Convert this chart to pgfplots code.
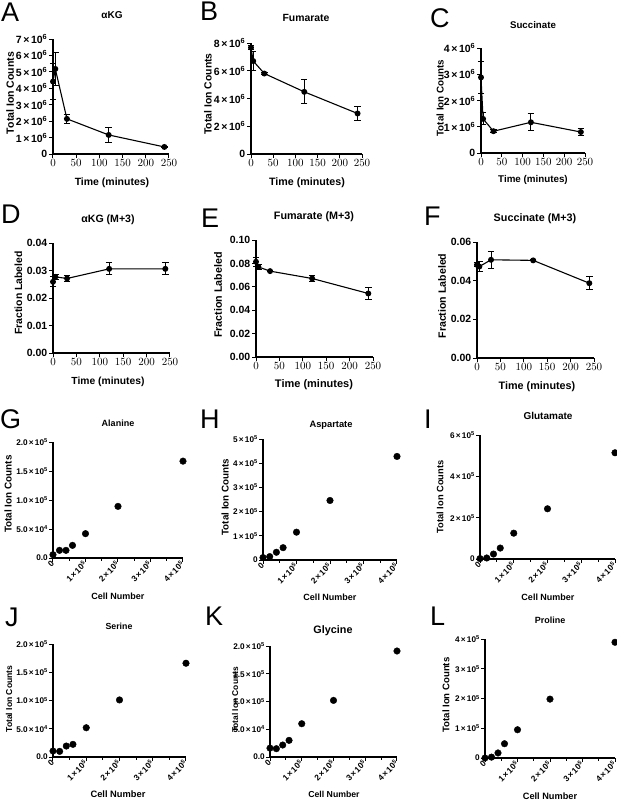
\documentclass[border=0pt]{standalone}
\usepackage{fontspec}
\setmainfont{Liberation Sans}
\usepackage{pgfplots}
\pgfplotsset{compat=1.18}
\newcommand{\tx}[2]{#1\kern0.15em×\kern0.15em10\textsuperscript{#2}}
\newcommand{\fs}[1]{\fontsize{#1}{#1}\selectfont\bfseries}
\newcommand{\lf}{\fontsize{27}{27}\selectfont}
\pgfplotsset{
  prism/.style={
    scale only axis, anchor=south west, clip=false,
    axis lines*=left, tick align=outside,
    axis line style={line width=1.1pt, black},
    tick style={line width=1pt, black},
    major tick length=4pt, minor tick length=2.5pt,
    xmin=0, ymin=0, scaled ticks=false,
    tick label style={font=\fs{10.5}},
    xticklabel style={inner sep=1pt}, yticklabel style={inner sep=1.5pt},
  },
  timeax/.style={prism, xmax=250, xtick={0,50,100,150,200,250}},
  cellax/.style={prism, xmax=400000, xtick={0,100000,200000,300000,400000},
    xticklabels={0,\tx{1}{5},\tx{2}{5},\tx{3}{5},\tx{4}{5}},
    minor xtick={50000,150000,250000,350000},
    xticklabel style={rotate=45, anchor=east, inner sep=0.5pt, font=\fs{8.3}},
    yticklabel style={font=\fs{8.2}, inner sep=1pt}},
  tline/.style={black, line width=1.1pt, mark=*, mark size=2.4pt, mark options={solid},
    error bars/y dir=both, error bars/y explicit,
    error bars/error bar style={line width=1pt, black},
    error bars/error mark options={rotate=90, mark size=3.2pt, line width=1pt, black}},
  dots/.style={black, only marks, mark=*, mark size=3.3pt},
}
\begin{document}
\begin{tikzpicture}
\path[use as bounding box] (0pt,0pt) rectangle (617pt,-801pt);

% ---------- A ----------
\begin{axis}[timeax, at={(53pt,-154pt)}, width=116pt, height=115pt, ymax=7000000,
  ytick={0,1000000,2000000,3000000,4000000,5000000,6000000,7000000},
  yticklabels={0,\tx{1}{6},\tx{2}{6},\tx{3}{6},\tx{4}{6},\tx{5}{6},\tx{6}{6},\tx{7}{6}}]
\addplot[tline] table[x=t,y=y,y error=e] {
t y e
0 4410000 1100000
5 5180000 990000
30 2140000 270000
120 1160000 450000
240 430000 40000
};
\end{axis}
% ---------- B ----------
\begin{axis}[timeax, at={(251pt,-154pt)}, width=111pt, height=111pt, ymax=8000000,
  ytick={0,2000000,4000000,6000000,8000000},
  yticklabels={0,\tx{2}{6},\tx{4}{6},\tx{6}{6},\tx{8}{6}}]
\addplot[tline] table[x=t,y=y,y error=e] {
t y e
0 7670000 150000
5 6700000 700000
30 5800000 60000
120 4480000 860000
240 2920000 500000
};
\end{axis}
% ---------- C ----------
\begin{axis}[timeax, at={(481pt,-153pt)}, width=104pt, height=105pt, ymax=4000000,
  ytick={0,1000000,2000000,3000000,4000000},
  yticklabels={0,\tx{1}{6},\tx{2}{6},\tx{3}{6},\tx{4}{6}}]
\addplot[tline] table[x=t,y=y,y error=e] {
t y e
0 2880000 600000
5 1300000 230000
30 830000 50000
120 1170000 320000
240 800000 140000
};
\end{axis}
% ---------- D ----------
\begin{axis}[timeax, at={(53pt,-353pt)}, width=117pt, height=110pt, ymax=0.04,
  ytick={0,0.01,0.02,0.03,0.04},
  yticklabels={0.00,0.01,0.02,0.03,0.04}]
\addplot[tline] table[x=t,y=y,y error=e] {
t y e
0 0.0259 0.0018
5 0.0277 0.0010
30 0.0271 0.0010
120 0.0306 0.0022
240 0.0306 0.0022
};
\end{axis}
% ---------- E ----------
\begin{axis}[timeax, at={(256pt,-357pt)}, width=117pt, height=117pt, ymax=0.10,
  ytick={0,0.02,0.04,0.06,0.08,0.10},
  yticklabels={0.00,0.02,0.04,0.06,0.08,0.10}]
\addplot[tline] table[x=t,y=y,y error=e] {
t y e
0 0.0814 0.0040
5 0.0770 0.0020
30 0.0734 0.0005
120 0.0671 0.0025
240 0.0543 0.0055
};
\end{axis}
% ---------- F ----------
\begin{axis}[timeax, at={(477pt,-358pt)}, width=117pt, height=116pt, ymax=0.06,
  ytick={0,0.02,0.04,0.06},
  yticklabels={0.00,0.02,0.04,0.06}]
\addplot[tline] table[x=t,y=y,y error=e] {
t y e
0 0.0482 0.0010
5 0.0473 0.0024
30 0.0508 0.0045
120 0.0505 0.0003
240 0.0387 0.0035
};
\end{axis}
% ---------- G ----------
\begin{axis}[cellax, at={(53pt,-558pt)}, width=130pt, height=116pt, ymax=200000,
  ytick={0,50000,100000,150000,200000},
  yticklabels={0.0,\tx{5.0}{4},\tx{1.0}{5},\tx{1.5}{5},\tx{2.0}{5}}]
\addplot[dots] coordinates {(0,5700) (20000,13200) (40000,13200) (60000,21800) (100000,42000) (200000,89000) (400000,167000)};
\end{axis}
% ---------- H ----------
\begin{axis}[cellax, at={(263pt,-560pt)}, width=134pt, height=121pt, ymax=500000,
  ytick={0,100000,200000,300000,400000,500000},
  yticklabels={0,\tx{1}{5},\tx{2}{5},\tx{3}{5},\tx{4}{5},\tx{5}{5}}]
\addplot[dots] coordinates {(0,10000) (20000,14000) (40000,32000) (60000,51000) (100000,115000) (200000,246000) (400000,428000)};
\end{axis}
% ---------- I ----------
\begin{axis}[cellax, at={(480pt,-559pt)}, width=135pt, height=124pt, ymax=600000,
  ytick={0,200000,400000,600000},
  yticklabels={0,\tx{2}{5},\tx{4}{5},\tx{6}{5}}]
\addplot[dots] coordinates {(0,2000) (20000,5000) (40000,24000) (60000,53000) (100000,125000) (200000,243000) (400000,514000)};
\end{axis}
% ---------- J ----------
\begin{axis}[cellax, at={(53pt,-757pt)}, width=133pt, height=113pt, ymax=200000,
  ytick={0,50000,100000,150000,200000},
  yticklabels={0.0,\tx{5.0}{4},\tx{1.0}{5},\tx{1.5}{5},\tx{2.0}{5}}]
\addplot[dots] coordinates {(0,10600) (20000,10000) (40000,19400) (60000,22400) (100000,51800) (200000,101000) (400000,166000)};
\end{axis}
% ---------- K ----------
\begin{axis}[cellax, at={(270pt,-757pt)}, width=127pt, height=111pt, ymax=200000,
  ytick={0,50000,100000,150000,200000},
  yticklabels={0.0,\tx{5.0}{4},\tx{1.0}{5},\tx{1.5}{5},\tx{2.0}{5}}]
\addplot[dots] coordinates {(0,16000) (20000,15000) (40000,21600) (60000,30000) (100000,60000) (200000,102000) (400000,191000)};
\end{axis}
% ---------- L ----------
\begin{axis}[cellax, at={(485pt,-758pt)}, width=130pt, height=119pt, ymax=400000,
  ytick={0,100000,200000,300000,400000},
  yticklabels={0,\tx{1}{5},\tx{2}{5},\tx{3}{5},\tx{4}{5}}]
\addplot[dots] coordinates {(0,0) (20000,3000) (40000,17000) (60000,48000) (100000,95000) (200000,198000) (400000,389000)};
\end{axis}

% ---------- panel letters ----------
\begin{scope}[every node/.style={anchor=base west, inner sep=0pt, font=\lf}]
\node at (1pt,-21pt) {A};
\node at (200pt,-20pt) {B};
\node at (430pt,-27pt) {C};
\node at (1pt,-223pt) {D};
\node at (201pt,-227pt) {E};
\node at (424pt,-225pt) {F};
\node at (0pt,-428pt) {G};
\node at (200pt,-428pt) {H};
\node at (424pt,-428pt) {I};
\node at (5pt,-626pt) {J};
\node at (205pt,-625pt) {K};
\node at (430pt,-625pt) {L};
\end{scope}

% ---------- titles ----------
\begin{scope}[every node/.style={anchor=base, inner sep=0pt}]
\node[font=\fs{10}] at (112pt,-18.5pt) {αKG};
\node[font=\fs{10.4}] at (306pt,-21pt) {Fumarate};
\node[font=\fs{9.7}] at (533pt,-28.5pt) {Succinate};
\node[font=\fs{10.6}] at (108pt,-222pt) {αKG (M+3)};
\node[font=\fs{10.8}] at (314pt,-219pt) {Fumarate (M+3)};
\node[font=\fs{10.8}] at (535pt,-221pt) {Succinate (M+3)};
\node[font=\fs{9}] at (118pt,-426pt) {Alanine};
\node[font=\fs{9.3}] at (331pt,-427pt) {Aspartate};
\node[font=\fs{10}] at (548pt,-419pt) {Glutamate};
\node[font=\fs{8.8}] at (119pt,-629pt) {Serine};
\node[font=\fs{10.8}] at (333pt,-633pt) {Glycine};
\node[font=\fs{9}] at (550pt,-623pt) {Proline};
\end{scope}

% ---------- y labels ----------
\begin{scope}[every node/.style={rotate=90, anchor=center, inner sep=0pt}]
\node[font=\fs{10.5}] at (10pt,-93pt) {Total Ion Counts};
\node[font=\fs{10.4}] at (208pt,-94pt) {Total Ion Counts};
\node[font=\fs{9.8}] at (440pt,-98pt) {Total Ion Counts};
\node[font=\fs{10.4}] at (18.5pt,-293pt) {Fraction Labeled};
\node[font=\fs{10.7}] at (218pt,-295pt) {Fraction Labeled};
\node[font=\fs{10.6}] at (442pt,-296pt) {Fraction Labeled};
\node[font=\fs{9.9}] at (8pt,-494pt) {Total Ion Counts};
\node[font=\fs{9.8}] at (225pt,-497pt) {Total Ion Counts};
\node[font=\fs{9.3}] at (440pt,-497pt) {Total Ion Counts};
\node[font=\fs{8.6}] at (9pt,-699pt) {Total Ion Counts};
\node[font=\fs{8.4}] at (235pt,-700pt) {Total Ion Counts};
\node[font=\fs{9.6}] at (446pt,-695pt) {Total Ion Counts};
\end{scope}

% ---------- x labels ----------
\begin{scope}[every node/.style={anchor=center, inner sep=0pt}]
\node[font=\fs{10.5}] at (112pt,-183pt) {Time (minutes)};
\node[font=\fs{10.7}] at (307pt,-183pt) {Time (minutes)};
\node[font=\fs{9.8}] at (533pt,-180pt) {Time (minutes)};
\node[font=\fs{10.3}] at (108pt,-382pt) {Time (minutes)};
\node[font=\fs{11}] at (314pt,-385pt) {Time (minutes)};
\node[font=\fs{10.8}] at (537pt,-387pt) {Time (minutes)};
\node[font=\fs{9}] at (118pt,-596pt) {Cell Number};
\node[font=\fs{9}] at (330pt,-597pt) {Cell Number};
\node[font=\fs{9}] at (548pt,-597pt) {Cell Number};
\node[font=\fs{9.3}] at (118pt,-794pt) {Cell Number};
\node[font=\fs{8.7}] at (334pt,-794pt) {Cell Number};
\node[font=\fs{9.2}] at (550pt,-796pt) {Cell Number};
\end{scope}
\end{tikzpicture}
\end{document}
